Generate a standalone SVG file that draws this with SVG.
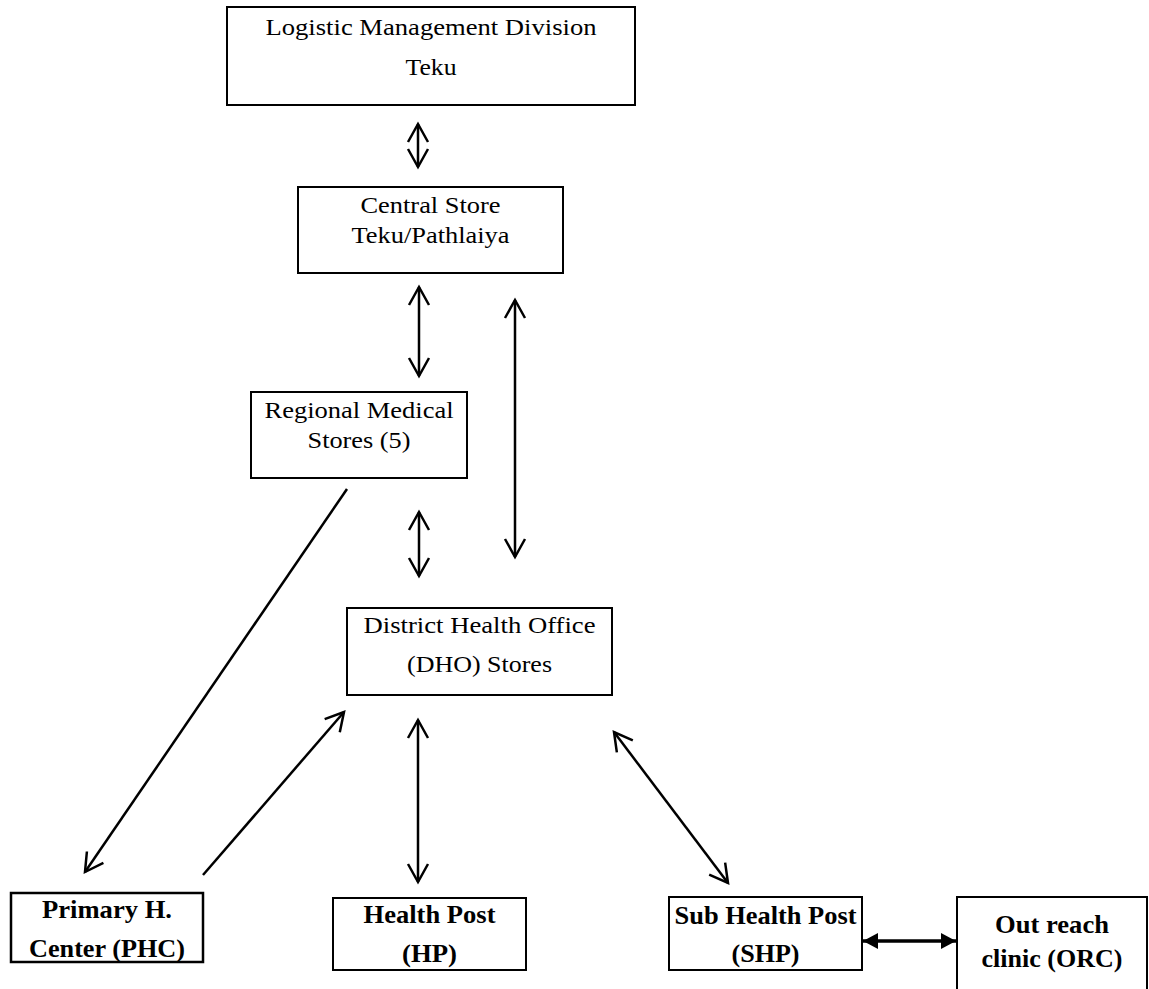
<svg xmlns="http://www.w3.org/2000/svg" width="1149" height="989" viewBox="0 0 1149 989">
<style>
.box{fill:#fff;stroke:#000;stroke-width:2}
.boxb{fill:#fff;stroke:#000;stroke-width:2.5}
.t{font-family:"Liberation Serif","Times New Roman",serif;font-size:24px;fill:#000;text-anchor:middle}
.tb{font-family:"Liberation Serif","Times New Roman",serif;font-size:25px;font-weight:bold;fill:#000;text-anchor:middle}
.c{fill:none;stroke:#000;stroke-width:2.5}
.cb{fill:none;stroke:#000;stroke-width:3.5}
</style>
<defs>
<marker id="open" markerUnits="userSpaceOnUse" viewBox="-22 -13 26 26" markerWidth="26" markerHeight="26" refX="0" refY="0" orient="auto-start-reverse">
<path d="M-18,-10 L0,0 L-18,10" fill="none" stroke="#000" stroke-width="2.5"/>
</marker>
<marker id="solid" markerUnits="userSpaceOnUse" viewBox="-18 -10 20 20" markerWidth="20" markerHeight="20" refX="0" refY="0" orient="auto-start-reverse">
<path d="M-15,-8 L0,0 L-15,8 Z" fill="#000"/>
</marker>
</defs>
<g id="connectors">
<line class="c" x1="418" y1="124" x2="418" y2="167" marker-start="url(#open)" marker-end="url(#open)"/>
<line class="c" x1="419" y1="287" x2="419" y2="376" marker-start="url(#open)" marker-end="url(#open)"/>
<line class="c" x1="515" y1="300" x2="515" y2="557" marker-start="url(#open)" marker-end="url(#open)"/>
<line class="c" x1="419" y1="512" x2="419" y2="576" marker-start="url(#open)" marker-end="url(#open)"/>
<line class="c" x1="347" y1="489" x2="85" y2="872" marker-end="url(#open)"/>
<line class="c" x1="203" y1="875" x2="344" y2="712" marker-end="url(#open)"/>
<line class="c" x1="418" y1="720" x2="418" y2="882" marker-start="url(#open)" marker-end="url(#open)"/>
<line class="c" x1="614" y1="732" x2="728" y2="883" marker-start="url(#open)" marker-end="url(#open)"/>
<line class="cb" x1="863" y1="941" x2="956" y2="941" marker-start="url(#solid)" marker-end="url(#solid)"/>
</g>
<g id="lmd">
<rect class="box" x="227" y="7" width="408" height="98"/>
<text class="t" x="431" y="35" textLength="331" lengthAdjust="spacingAndGlyphs">Logistic Management Division</text>
<text class="t" x="431" y="75" textLength="51" lengthAdjust="spacingAndGlyphs">Teku</text>
</g>
<g id="central">
<rect class="box" x="298" y="187" width="265" height="86"/>
<text class="t" x="430.5" y="213" textLength="140" lengthAdjust="spacingAndGlyphs">Central Store</text>
<text class="t" x="430.5" y="243" textLength="158" lengthAdjust="spacingAndGlyphs">Teku/Pathlaiya</text>
</g>
<g id="regional">
<rect class="box" x="251" y="392" width="216" height="86"/>
<text class="t" x="359" y="418" textLength="189" lengthAdjust="spacingAndGlyphs">Regional Medical</text>
<text class="t" x="359" y="448" textLength="103" lengthAdjust="spacingAndGlyphs">Stores (5)</text>
</g>
<g id="dho">
<rect class="box" x="347" y="608" width="265" height="87"/>
<text class="t" x="479.5" y="633" textLength="232" lengthAdjust="spacingAndGlyphs">District Health Office</text>
<text class="t" x="479.5" y="672" textLength="145" lengthAdjust="spacingAndGlyphs">(DHO) Stores</text>
</g>
<g id="phc">
<rect class="boxb" x="11" y="893" width="192" height="69"/>
<text class="tb" x="107" y="918" textLength="130" lengthAdjust="spacingAndGlyphs">Primary H.</text>
<text class="tb" x="107" y="957" textLength="156" lengthAdjust="spacingAndGlyphs">Center (PHC)</text>
</g>
<g id="hp">
<rect class="box" x="333" y="898" width="193" height="72"/>
<text class="tb" x="429.5" y="923" textLength="132" lengthAdjust="spacingAndGlyphs">Health Post</text>
<text class="tb" x="429.5" y="962" textLength="55" lengthAdjust="spacingAndGlyphs">(HP)</text>
</g>
<g id="shp">
<rect class="box" x="669" y="897" width="193" height="73"/>
<text class="tb" x="765.5" y="924" textLength="182" lengthAdjust="spacingAndGlyphs">Sub Health Post</text>
<text class="tb" x="765.5" y="962" textLength="68" lengthAdjust="spacingAndGlyphs">(SHP)</text>
</g>
<g id="orc">
<rect class="box" x="957" y="897" width="190" height="120"/>
<text class="tb" x="1052" y="933" textLength="114" lengthAdjust="spacingAndGlyphs">Out reach</text>
<text class="tb" x="1052" y="967" textLength="141" lengthAdjust="spacingAndGlyphs">clinic (ORC)</text>
</g>
</svg>
